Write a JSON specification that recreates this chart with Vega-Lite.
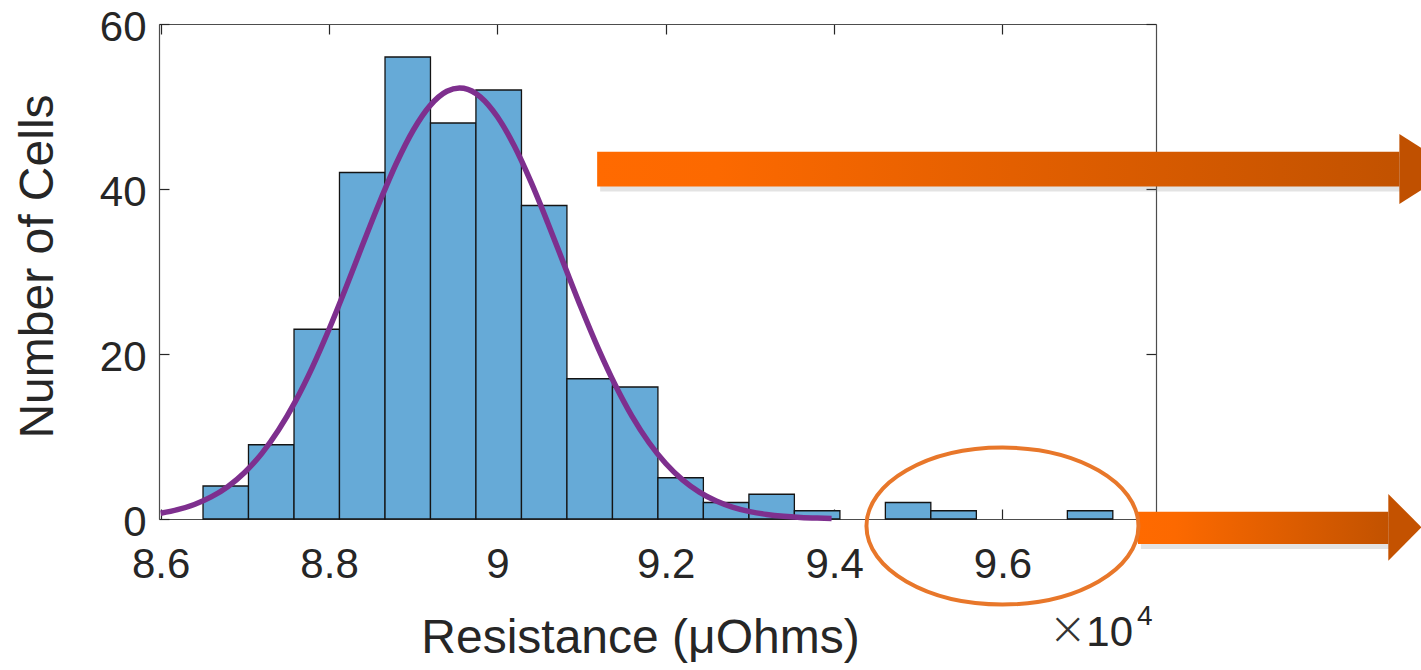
{
  "$schema": "https://vega.github.io/schema/vega-lite/v6.json",
  "autosize": {"type": "none"},
  "padding": {"left": 159, "top": 24, "right": 265, "bottom": 151},
  "width": 997,
  "height": 495,
  "background": "white",
  "config": {
    "view": {"stroke": null},
    "font": "Liberation Sans",
    "axis": {
      "grid": false,
      "domainColor": "#4d4d4d",
      "domainWidth": 1.2,
      "tickColor": "#262626",
      "tickWidth": 1.2,
      "tickSize": -10,
      "labelFont": "Liberation Sans",
      "titleFont": "Liberation Sans",
      "labelColor": "#262626",
      "titleColor": "#262626",
      "labelFontSize": 42,
      "titleFontSize": 48,
      "titleFontWeight": "normal"
    }
  },
  "datasets": {
    "bars": [
      {"start": 8.6503, "end": 8.7043, "count": 4},
      {"start": 8.7043, "end": 8.7584, "count": 9},
      {"start": 8.7584, "end": 8.8124, "count": 23},
      {"start": 8.8124, "end": 8.8665, "count": 42},
      {"start": 8.8665, "end": 8.9205, "count": 56},
      {"start": 8.9205, "end": 8.9745, "count": 48},
      {"start": 8.9745, "end": 9.0286, "count": 52},
      {"start": 9.0286, "end": 9.0826, "count": 38},
      {"start": 9.0826, "end": 9.1367, "count": 17},
      {"start": 9.1367, "end": 9.1907, "count": 16},
      {"start": 9.1907, "end": 9.2447, "count": 5},
      {"start": 9.2447, "end": 9.2988, "count": 2},
      {"start": 9.2988, "end": 9.3528, "count": 3},
      {"start": 9.3528, "end": 9.4069, "count": 1},
      {"start": 9.4609, "end": 9.5149, "count": 2},
      {"start": 9.5149, "end": 9.569, "count": 1},
      {"start": 9.6771, "end": 9.7311, "count": 1}
    ],
    "fit": [
      {"x": 8.6, "y": 0.706}, {"x": 8.62, "y": 1.131}, {"x": 8.64, "y": 1.764}, {"x": 8.66, "y": 2.676},
      {"x": 8.68, "y": 3.95}, {"x": 8.7, "y": 5.672}, {"x": 8.72, "y": 7.926}, {"x": 8.74, "y": 10.778},
      {"x": 8.76, "y": 14.26}, {"x": 8.78, "y": 18.358}, {"x": 8.8, "y": 23.001}, {"x": 8.82, "y": 28.041},
      {"x": 8.84, "y": 33.264}, {"x": 8.86, "y": 38.391}, {"x": 8.88, "y": 43.118}, {"x": 8.9, "y": 47.122},
      {"x": 8.92, "y": 50.109}, {"x": 8.94, "y": 51.85}, {"x": 8.955, "y": 52.25}, {"x": 8.96, "y": 52.206},
      {"x": 8.98, "y": 51.146}, {"x": 9.0, "y": 48.759}, {"x": 9.02, "y": 45.23}, {"x": 9.04, "y": 40.827},
      {"x": 9.06, "y": 35.858}, {"x": 9.08, "y": 30.644}, {"x": 9.1, "y": 25.483}, {"x": 9.12, "y": 20.62},
      {"x": 9.14, "y": 16.237}, {"x": 9.16, "y": 12.438}, {"x": 9.18, "y": 9.274}, {"x": 9.2, "y": 6.728},
      {"x": 9.22, "y": 4.748}, {"x": 9.24, "y": 3.261}, {"x": 9.26, "y": 2.179}, {"x": 9.28, "y": 1.417},
      {"x": 9.3, "y": 0.897}, {"x": 9.32, "y": 0.552}, {"x": 9.34, "y": 0.331}, {"x": 9.36, "y": 0.193},
      {"x": 9.38, "y": 0.11}, {"x": 9.397, "y": 0.065}
    ],
    "shafts": [
      {"arrow": "top", "x": 9.1185, "x2": 10.0715, "y": 44.52, "y2": 40.3},
      {"arrow": "bottom", "x": 9.761, "x2": 10.0584, "y": 0.885, "y2": -3.03}
    ],
    "heads": [
      {"arrow": "top", "x": 10.0715, "lo": 38.18, "hi": 46.67},
      {"arrow": "top", "x": 10.1374, "lo": 42.42, "hi": 42.42},
      {"arrow": "bottom", "x": 10.0584, "lo": -5.05, "hi": 3.03},
      {"arrow": "bottom", "x": 10.0979, "lo": -1.0, "hi": -1.0}
    ],
    "ellipse": [{"x": 9.6, "y": -0.85}],
    "times_sign": [{"x": 9.7005, "y": -15.1, "t": "×"}],
    "exponent_base": [{"x": 9.7551, "y": -15.39, "t": "10"}],
    "exponent_power": [{"x": 9.7598, "y": -12.85, "t": "4"}]
  },
  "resolve": {"axis": {"x": "independent", "y": "independent"}},
  "layer": [
    {
      "data": {"name": "bars"},
      "mark": {"type": "rect", "fill": "#66aad7", "stroke": "#141414", "strokeWidth": 1.3},
      "encoding": {
        "x": {"field": "start", "type": "quantitative",
          "scale": {"domain": [8.598, 9.7824], "nice": false, "zero": false},
          "axis": {"orient": "bottom", "values": [8.6, 8.8, 9, 9.2, 9.4, 9.6], "format": "~g",
            "labelPadding": 35, "title": "Resistance (μOhms)",
            "titleX": 481, "titleY": 133, "titleBaseline": "alphabetic", "titleAlign": "center"}},
        "x2": {"field": "end"},
        "y": {"field": "count", "type": "quantitative",
          "scale": {"domain": [0, 60], "nice": false},
          "axis": {"orient": "left", "values": [0, 20, 40, 60], "labelPadding": 23, "labelOffset": 3,
            "title": "Number of Cells", "titleX": -107, "titleY": 242, "titleBaseline": "alphabetic", "titleAlign": "center", "titleAngle": -90}},
        "y2": {"datum": 0}
      }
    },
    {
      "data": {"name": "fit"},
      "mark": {"type": "line", "color": "#7e2f8e", "strokeWidth": 5.5, "interpolate": "monotone"},
      "encoding": {
        "x": {"field": "x", "type": "quantitative",
          "axis": {"orient": "top", "values": [8.6, 8.8, 9, 9.2, 9.4, 9.6], "labels": false, "title": null}},
        "y": {"field": "y", "type": "quantitative",
          "axis": {"orient": "right", "values": [0, 20, 40, 60], "labels": false, "title": null}}
      }
    },
    {
      "data": {"name": "shafts"},
      "mark": {"type": "rect", "color": "#808080", "opacity": 0.22, "xOffset": 3, "x2Offset": 3, "yOffset": 5, "y2Offset": 5},
      "encoding": {
        "x": {"field": "x", "type": "quantitative", "axis": null},
        "x2": {"field": "x2"},
        "y": {"field": "y", "type": "quantitative", "axis": null},
        "y2": {"field": "y2"}
      }
    },
    {
      "data": {"name": "shafts"},
      "mark": {"type": "rect", "color": {"gradient": "linear", "stops": [{"offset": 0, "color": "#ff6a00"}, {"offset": 0.15, "color": "#fc6900"}, {"offset": 1, "color": "#c25200"}]}},
      "encoding": {
        "x": {"field": "x", "type": "quantitative", "axis": null},
        "x2": {"field": "x2"},
        "y": {"field": "y", "type": "quantitative", "axis": null},
        "y2": {"field": "y2"}
      }
    },
    {
      "data": {"name": "heads"},
      "mark": {"type": "area", "orient": "vertical"},
      "encoding": {
        "x": {"field": "x", "type": "quantitative", "axis": null},
        "y": {"field": "lo", "type": "quantitative", "axis": null},
        "y2": {"field": "hi"},
        "color": {"field": "arrow", "type": "nominal", "scale": {"domain": ["top", "bottom"], "range": ["#c05000", "#c45200"]}, "legend": null}
      }
    },
    {
      "data": {"name": "ellipse"},
      "mark": {"type": "point", "shape": "M-1,0A1,0.577 0 1,1 1,0A1,0.577 0 1,1 -1,0Z", "size": 73984, "filled": false, "stroke": "#e8772a", "strokeWidth": 4, "opacity": 1},
      "encoding": {
        "x": {"field": "x", "type": "quantitative", "axis": null},
        "y": {"field": "y", "type": "quantitative", "axis": null}
      }
    },
    {
      "data": {"name": "times_sign"},
      "mark": {"type": "text", "fontSize": 46, "font": "DejaVu Sans", "fontWeight": 200, "color": "#333333", "align": "right", "baseline": "alphabetic"},
      "encoding": {
        "x": {"field": "x", "type": "quantitative", "axis": null},
        "y": {"field": "y", "type": "quantitative", "axis": null},
        "text": {"field": "t"}
      }
    },
    {
      "data": {"name": "exponent_base"},
      "mark": {"type": "text", "fontSize": 42, "font": "Liberation Sans", "color": "#262626", "align": "right", "baseline": "alphabetic"},
      "encoding": {
        "x": {"field": "x", "type": "quantitative", "axis": null},
        "y": {"field": "y", "type": "quantitative", "axis": null},
        "text": {"field": "t"}
      }
    },
    {
      "data": {"name": "exponent_power"},
      "mark": {"type": "text", "fontSize": 28, "font": "Liberation Sans", "color": "#262626", "align": "left", "baseline": "alphabetic"},
      "encoding": {
        "x": {"field": "x", "type": "quantitative", "axis": null},
        "y": {"field": "y", "type": "quantitative", "axis": null},
        "text": {"field": "t"}
      }
    }
  ]
}
